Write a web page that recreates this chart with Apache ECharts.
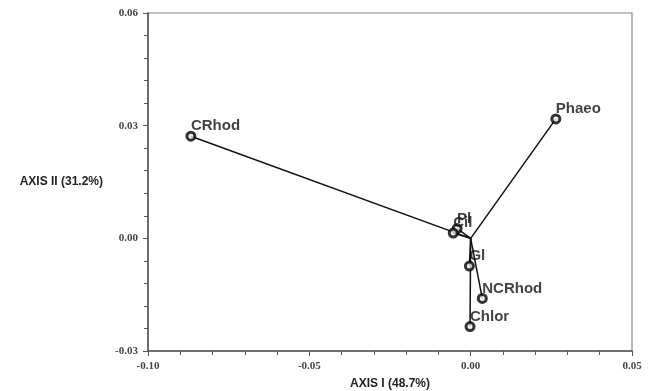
<!DOCTYPE html>
<html>
<head>
<meta charset="utf-8">
<script src="https://cdn.jsdelivr.net/npm/echarts@6/dist/echarts.min.js"></script>
<style>
  html, body { margin: 0; padding: 0; background: #fff; }
  #chart { width: 650px; height: 391px; }
</style>
</head>
<body>
<div id="chart"></div>
<script>
// variables du biplot
const names = ['CRhod', 'Phaeo', 'Pl', 'Cil', 'Gl', 'NCRhod', 'Chlor'];
const axis1 = [-0.0867, 0.0264, -0.0042, -0.0054, -0.0004, 0.0036, -0.0002];
const axis2 = [0.0272, 0.0318, 0.0026, 0.0014, -0.0074, -0.0160, -0.0235];
const origin = [0, 0];

function loadBiplot() {
    const chart = echarts.init(document.getElementById('chart'));

    const points = names.map((name, i) => ({ name: name, value: [axis1[i], axis2[i]] }));

    // un segment de l'origine vers chaque variable
    const vectors = names.map((name, i) => ({
        type: 'line',
        data: [origin, [axis1[i], axis2[i]]],
        symbol: 'none',
        silent: true,
        lineStyle: { color: '#111', width: 1.5 }
    }));

    const tickFont = { fontFamily: 'Liberation Serif', fontWeight: 'bold', fontSize: 11, color: '#444' };

    chart.setOption({
        animation: false,
        grid: {
            left: 148, right: 18, top: 13, bottom: 40,
            outerBoundsMode: 'none',
            show: true, borderColor: '#888', borderWidth: 1.2
        },
        xAxis: {
            type: 'value',
            min: -0.10, max: 0.05, interval: 0.05,
            name: 'AXIS I (48.7%)',
            nameLocation: 'middle',
            nameGap: 27,
            nameTextStyle: { fontFamily: 'Liberation Sans', fontWeight: 'bold', fontSize: 12, color: '#222' },
            axisLine: { onZero: false, lineStyle: { color: '#555', width: 1.5 } },
            axisTick: { length: 5, lineStyle: { color: '#555' } },
            minorTick: { show: true, splitNumber: 5, length: 4, lineStyle: { color: '#555' } },
            splitLine: { show: false },
            axisLabel: Object.assign({ margin: 10, formatter: v => v.toFixed(2) }, tickFont)
        },
        yAxis: {
            type: 'value',
            min: -0.03, max: 0.06, interval: 0.03,
            name: 'AXIS II (31.2%)',
            nameLocation: 'middle',
            nameRotate: 0,
            nameGap: 45,
            nameTextStyle: { fontFamily: 'Liberation Sans', fontWeight: 'bold', fontSize: 12, color: '#222' },
            axisLine: { onZero: false, lineStyle: { color: '#555', width: 1.5 } },
            axisTick: { length: 5, lineStyle: { color: '#555' } },
            minorTick: { show: true, splitNumber: 5, length: 4, lineStyle: { color: '#555' } },
            splitLine: { show: false },
            axisLabel: Object.assign({ margin: 10, formatter: v => v.toFixed(2) }, tickFont)
        },
        series: vectors.concat([{
            type: 'scatter',
            data: points,
            symbol: 'circle',
            symbolSize: 8,
            itemStyle: { color: '#eee', borderColor: '#000', borderWidth: 3 },
            label: {
                show: true,
                formatter: p => p.name,
                position: 'top',
                align: 'left',
                distance: -3,
                fontFamily: 'Liberation Sans',
                fontWeight: 'bold',
                fontSize: 15,
                color: '#111'
            },
            z: 5
        }])
    });

    window.addEventListener('resize', () => chart.resize());
}

document.addEventListener('DOMContentLoaded', () => {
    loadBiplot();
});
</script>
</body>
</html>
